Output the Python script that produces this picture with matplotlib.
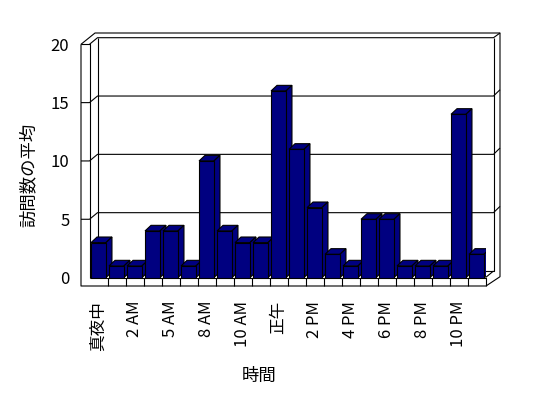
import matplotlib.pyplot as plt
from matplotlib.patches import Polygon

plt.rcParams['font.family'] = ['Noto Sans CJK JP', 'DejaVu Sans']

# 時間ごとの訪問数の平均
hours = ['真夜中', '1 AM', '2 AM', '3 AM', '5 AM', '6 AM', '8 AM', '9 AM', '10 AM', '11 AM',
         '正午', '1 PM', '2 PM', '3 PM', '4 PM', '5 PM', '6 PM', '7 PM', '8 PM', '9 PM',
         '10 PM', '11 PM']
visits = [3, 1, 1, 4, 4, 1, 10, 4, 3, 3, 16, 11, 6, 2, 1, 5, 5, 1, 1, 1, 14, 2]
y_ticks = [0, 5, 10, 15, 20]

W, H = 548, 398
fig = plt.figure(figsize=(W / 100, H / 100), dpi=100)

# 3D ボックスの前面 (ピクセル)
left, right, base, top = 89.5, 485.5, 277.6, 44.3
ax = fig.add_axes([left / W, (H - base) / H, (right - left) / W, (base - top) / H])
n = len(visits)
ax.set_xlim(-0.5, n - 0.5)
ax.set_ylim(0, 20)
px = n / (right - left)
py = 20 / (base - top)


def to_data(xp, yp):
    return -0.5 + (xp - left) * px, (base - yp) * py


def line(pts, z=1):
    xs, ys = zip(*[to_data(a, b) for a, b in pts])
    ax.plot(xs, ys, color='black', lw=0.8, clip_on=False, zorder=z, solid_capstyle='butt')


# 奥行き
dx, dy = 8, 6.6
back_l, back_r = left + dx, right + dx
out_r = back_r + 6.5

# 壁と床
line([(81, 44.3), (81, 286), (486, 286), (out_r, 276.7), (out_r, 33), (95, 33), (81, 44.3)])
line([(81, 44.3), (left, 44.3), (left, base)])
line([(left, 44.3), (back_l, 44.3 - dy), (back_r, 44.3 - dy), (out_r, 33)])
line([(back_l, 44.3 - dy), (back_l, base - dy), (back_r, base - dy), (back_r, 44.3 - dy)])
line([(left, base), (right, base), (right, 286)])
line([(right, base), (back_r, base - dy)])
for k in range(1, n):
    xb = left + k * (right - left) / n
    line([(xb, base), (xb, 286)])

# 目盛線
for v in y_ticks[1:-1]:
    yp = base - v / py
    line([(81, yp), (left, yp), (back_l, yp - dy), (back_r, yp - dy), (out_r, yp - dy - 6.3)])

# 棒
bw = 0.83
bdx, bdy = 6 * px, 5.6 * py
bars = ax.bar(range(n), visits, width=bw, color='#000080', edgecolor='black', lw=0.8)
for i, (b, h) in enumerate(zip(bars, visits)):
    z = 3 + i * 0.01
    b.set_zorder(z)
    x0, x1 = i - bw / 2, i + bw / 2
    top_face = Polygon([(x0, h), (x1, h), (x1 + bdx, h + bdy), (x0 + bdx, h + bdy)],
                       closed=True, fc='#000080', ec='black', lw=0.8, zorder=z - 0.005)
    side_face = Polygon([(x1, 0), (x1, h), (x1 + bdx, h + bdy), (x1 + bdx, bdy)],
                        closed=True, fc='#000080', ec='black', lw=0.8, zorder=z - 0.005)
    ax.add_patch(top_face)
    ax.add_patch(side_face)

for s in ax.spines.values():
    s.set_visible(False)
ax.patch.set_alpha(0)
ax.set_yticks(y_ticks)
ax.set_yticklabels([str(v) for v in y_ticks], fontsize=12)
ax.set_xticks(range(n))
ax.set_xticklabels([h if i % 2 == 0 else '' for i, h in enumerate(hours)], rotation=90, fontsize=12)
ax.tick_params(axis='y', length=0, pad=14.5)
ax.tick_params(axis='x', length=0, pad=16.8)

fig.text(259 / W, 1 - 376 / H, '時間', ha='center', va='center', fontsize=12.5)
fig.text(29 / W, 1 - 175 / H, '訪問数の平均', rotation=90, ha='center', va='center', fontsize=12.5)

fig.savefig('out.png', dpi=100)
